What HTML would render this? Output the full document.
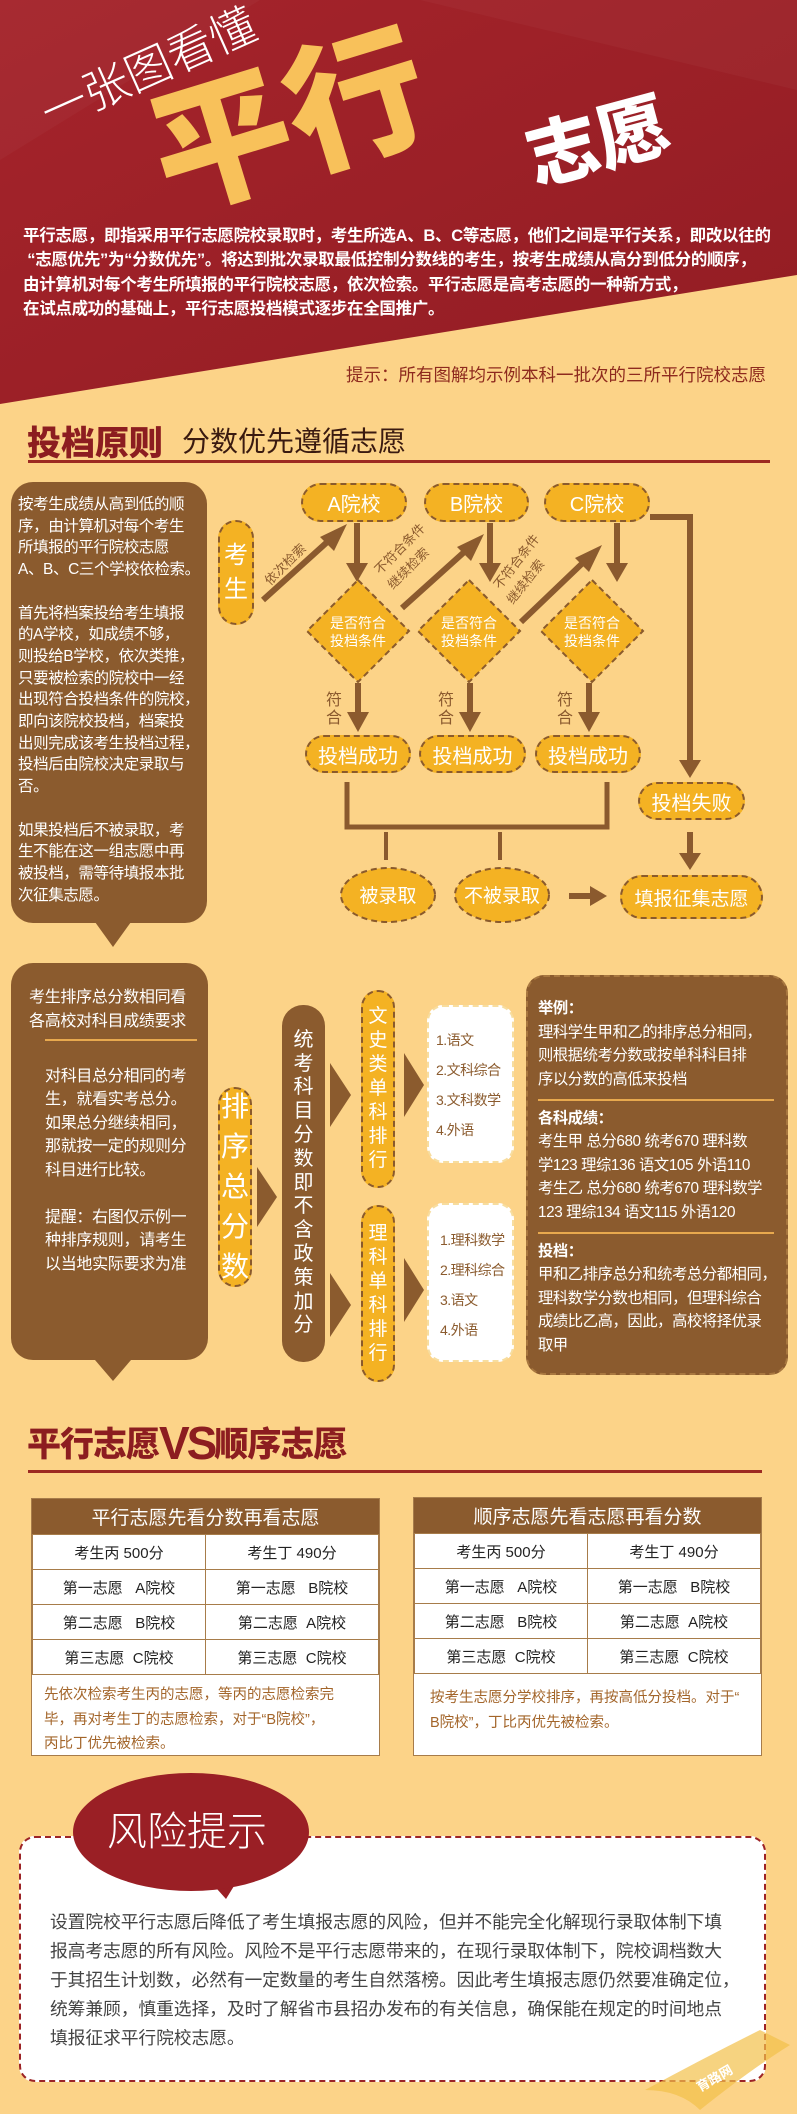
<!DOCTYPE html>
<html><head><meta charset="utf-8">
<style>
*{margin:0;padding:0;box-sizing:border-box}
body{width:797px;height:2114px;position:relative;overflow:hidden;background:#fcd388;font-family:"Liberation Sans","Noto Sans CJK SC",sans-serif}
.a{position:absolute}
.nw{white-space:nowrap}
.pill{position:absolute;background:#f4b223;border:2px dashed #8a5a2c;border-radius:22px;color:#fff;display:flex;align-items:center;justify-content:center;font-size:20px;white-space:nowrap}
.brown{position:absolute;background:#8b5b2e;color:#fff;white-space:nowrap}
.vt{display:flex;flex-direction:column;align-items:center;justify-content:center}
table{border-collapse:collapse;width:100%}
td{border:1.5px solid #a77c4a;text-align:center;font-size:15px;color:#222;height:35px;white-space:nowrap}
.tb{position:absolute;background:#fff;border:1.5px solid #a77c4a}
.th{background:#8b5b2e;color:#fff;font-size:19px;height:35px;display:flex;align-items:center;justify-content:center}
.note{font-size:14.5px;color:#a3652a;line-height:24.5px;padding:8px 10px 0 12px;text-align:left;white-space:nowrap}
</style></head><body>

<svg class="a" style="left:0;top:0" width="797" height="420">
<defs><linearGradient id="rg" x1="0" y1="0" x2="1" y2="1"><stop offset="0" stop-color="#a5242b"/><stop offset="1" stop-color="#921c23"/></linearGradient></defs>
<polygon points="0,0 797,0 797,275 0,404" fill="url(#rg)"/>
<polygon points="0,0 260,0 0,160" fill="#ffffff" opacity="0.03"/>
<polygon points="420,0 797,0 797,90" fill="#ffffff" opacity="0.03"/>
<text x="0" y="0" transform="translate(50,130) rotate(-24)" font-size="46" fill="#fff" font-family="Noto Sans CJK SC,sans-serif" font-weight="300">一张图看懂</text>
<text x="0" y="0" transform="translate(170,210) rotate(-17)" font-size="140" fill="#f8c15a" font-family="Noto Sans CJK SC,sans-serif" font-weight="900">平行</text>
<text x="0" y="0" transform="translate(535,185) rotate(-15)" font-size="72" fill="#fff" font-family="Noto Sans CJK SC,sans-serif" font-weight="900">志愿</text>
</svg>
<div class="a nw" style="left:23px;top:224px;color:#fff;font-size:16.5px;line-height:24.3px;font-weight:bold;letter-spacing:-0.3px">平行志愿，即指采用平行志愿院校录取时，考生所选A、B、C等志愿，他们之间是平行关系，即改以往的<br>&nbsp;“志愿优先”为“分数优先”。将达到批次录取最低控制分数线的考生，按考生成绩从高分到低分的顺序，<br>由计算机对每个考生所填报的平行院校志愿，依次检索。平行志愿是高考志愿的一种新方式，<br>在试点成功的基础上，平行志愿投档模式逐步在全国推广。</div>
<div class="a nw" style="left:346px;top:362px;color:#8e2a1e;font-size:17.5px">提示：所有图解均示例本科一批次的三所平行院校志愿</div>

<div class="a nw" style="left:27px;top:416px;color:#8c1d20;font-size:34px;font-weight:900">投档原则</div>
<div class="a nw" style="left:182px;top:420px;color:#3a1a10;font-size:28px">分数优先遵循志愿</div>
<div class="a" style="left:28px;top:460px;width:742px;height:3px;background:#9c2a22"></div>

<div class="brown" style="left:11px;top:482px;width:196px;height:441px;border-radius:22px;padding:12px 0 0 7px;font-size:15.5px;line-height:21.7px;letter-spacing:-0.4px">按考生成绩从高到低的顺<br>序，由计算机对每个考生<br>所填报的平行院校志愿<br>A、B、C三个学校依检索。<br><br>首先将档案投给考生填报<br>的A学校，如成绩不够，<br>则投给B学校，依次类推，<br>只要被检索的院校中一经<br>出现符合投档条件的院校，<br>即向该院校投档，档案投<br>出则完成该考生投档过程，<br>投档后由院校决定录取与<br>否。<br><br>如果投档后不被录取，考<br>生不能在这一组志愿中再<br>被投档，需等待填报本批<br>次征集志愿。</div>
<svg class="a" style="left:0;top:0" width="797" height="1400">
<polygon points="95,922 131,922 113,947" fill="#8b5b2e"/>
<g stroke="#8b5a2e" stroke-width="6" fill="none">
<line x1="263" y1="600" x2="335" y2="535"/>
<line x1="402" y1="608" x2="472" y2="545"/>
<line x1="521" y1="622" x2="590" y2="556"/>
<line x1="357" y1="523" x2="357" y2="565"/>
<line x1="490" y1="523" x2="490" y2="565"/>
<line x1="617" y1="523" x2="617" y2="565"/>
<line x1="358" y1="683" x2="358" y2="715"/>
<line x1="470" y1="683" x2="470" y2="715"/>
<line x1="589" y1="683" x2="589" y2="715"/>
<polyline points="650,517 690,517 690,762"/>
<line x1="690" y1="832" x2="690" y2="855"/>
<polyline points="347,782 347,827 607,827 607,782" stroke-width="5"/>
<line x1="386" y1="832" x2="386" y2="860" stroke-width="4"/>
<line x1="500" y1="832" x2="500" y2="860" stroke-width="4"/>
<line x1="569" y1="896" x2="592" y2="896"/>
</g>
<g fill="#8b5a2e">
<polygon points="347,524 320,537 334,551"/>
<polygon points="484,534 457,547 471,561"/>
<polygon points="602,545 575,558 589,572"/>
<polygon points="346,563 368,563 357,582"/>
<polygon points="479,563 501,563 490,582"/>
<polygon points="606,563 628,563 617,582"/>
<polygon points="347,712 369,712 358,732"/>
<polygon points="459,712 481,712 470,732"/>
<polygon points="578,712 600,712 589,732"/>
<polygon points="679,760 701,760 690,778"/>
<polygon points="679,853 701,853 690,870"/>
<polygon points="590,886 590,906 607,896"/>
</g>
<g fill="#f4b223" stroke="#8a5a2c" stroke-width="2" stroke-dasharray="6,4">
<polygon points="358,580 409,631 358,682 307,631"/>
<polygon points="469,580 520,631 469,682 418,631"/>
<polygon points="592,580 643,631 592,682 541,631"/>
<ellipse cx="388" cy="895" rx="47" ry="27"/>
<ellipse cx="502" cy="895" rx="47" ry="27"/>
</g>
<g font-family="Noto Sans CJK SC,sans-serif" font-size="14" fill="#fff" text-anchor="middle">
<text x="358" y="628">是否符合</text><text x="358" y="646">投档条件</text>
<text x="469" y="628">是否符合</text><text x="469" y="646">投档条件</text>
<text x="592" y="628">是否符合</text><text x="592" y="646">投档条件</text>
<text x="388" y="902" font-size="19">被录取</text>
<text x="502" y="902" font-size="19">不被录取</text>
</g>
<g font-family="Noto Sans CJK SC,sans-serif" font-size="13" fill="#8b5a2e">
<text transform="translate(270,586) rotate(-45)">依次检索</text>
<text transform="translate(380,575) rotate(-45)">不符合条件</text>
<text transform="translate(393,590) rotate(-45)">继续检索</text>
<text transform="translate(500,590) rotate(-52)">不符合条件</text>
<text transform="translate(513,605) rotate(-52)">继续检索</text>
<text x="326" y="705" font-size="16">符</text><text x="326" y="723" font-size="16">合</text>
<text x="438" y="705" font-size="16">符</text><text x="438" y="723" font-size="16">合</text>
<text x="557" y="705" font-size="16">符</text><text x="557" y="723" font-size="16">合</text>
</g>
<g fill="#8b5b2e">
<polygon points="95,1360 131,1360 113,1381"/>
<polygon points="257,1167 277,1197 257,1227"/>
<polygon points="330,1063 351,1095 330,1127"/>
<polygon points="330,1273 351,1305 330,1337"/>
<polygon points="404,1053 424,1085 404,1117"/>
<polygon points="404,1258 424,1290 404,1322"/>
</g>
</svg>
<div class="pill" style="left:301px;top:483px;width:106px;height:39px">A院校</div>
<div class="pill" style="left:424px;top:483px;width:105px;height:39px">B院校</div>
<div class="pill" style="left:544px;top:483px;width:106px;height:39px">C院校</div>
<div class="pill vt" style="left:218px;top:520px;width:36px;height:105px;font-size:24px;line-height:34px;border-radius:18px">考<br>生</div>
<div class="pill" style="left:305px;top:735px;width:106px;height:38px">投档成功</div>
<div class="pill" style="left:419px;top:735px;width:107px;height:38px">投档成功</div>
<div class="pill" style="left:535px;top:735px;width:106px;height:38px">投档成功</div>
<div class="pill" style="left:638px;top:782px;width:107px;height:38px">投档失败</div>
<div class="pill" style="left:620px;top:875px;width:143px;height:44px;font-size:19px">填报征集志愿</div>

<div class="brown" style="left:11px;top:963px;width:197px;height:397px;border-radius:22px;font-size:16px;line-height:23.5px;padding:23px 0 0 18px;letter-spacing:-0.3px">
<div>考生排序总分数相同看<br>各高校对科目成绩要求</div>
<div style="width:152px;height:1.5px;background:#e8a94e;margin:6px 0 0 16px"></div>
<div style="margin-top:24px;margin-left:16px">对科目总分相同的考<br>生，就看实考总分。<br>如果总分继续相同，<br>那就按一定的规则分<br>科目进行比较。<br><br>提醒：右图仅示例一<br>种排序规则，请考生<br>以当地实际要求为准</div>
</div>
<div class="pill vt" style="left:218px;top:1087px;width:34px;height:200px;font-size:28px;line-height:40px;border-radius:17px">排<br>序<br>总<br>分<br>数</div>
<div class="brown vt" style="left:282px;top:1005px;width:43px;height:357px;border-radius:21px;font-size:20px;line-height:23.8px">统<br>考<br>科<br>目<br>分<br>数<br>即<br>不<br>含<br>政<br>策<br>加<br>分</div>
<div class="pill vt" style="left:361px;top:990px;width:34px;height:198px;font-size:19px;line-height:24px;border-radius:17px">文<br>史<br>类<br>单<br>科<br>排<br>行</div>
<div class="pill vt" style="left:361px;top:1205px;width:34px;height:177px;font-size:19px;line-height:24px;border-radius:17px">理<br>科<br>单<br>科<br>排<br>行</div>
<div class="a nw" style="left:427px;top:1005px;width:87px;height:158px;background:#fff;border:2px dashed #f7dd9f;border-radius:16px;color:#8b5b2e;font-size:14px;line-height:30px;padding:18px 0 0 7px;letter-spacing:-0.5px">1.语文<br>2.文科综合<br>3.文科数学<br>4.外语</div>
<div class="a nw" style="left:427px;top:1203px;width:87px;height:159px;background:#fff;border:2px dashed #f7dd9f;border-radius:16px;color:#8b5b2e;font-size:14px;line-height:30px;padding:20px 0 0 11px;letter-spacing:-0.5px">1.理科数学<br>2.理科综合<br>3.语文<br>4.外语</div>
<div class="brown" style="left:526px;top:975px;width:262px;height:400px;border-radius:18px;border:2px dashed #a8773f;font-size:15.3px;line-height:23.5px;padding:20px 0 0 10px;letter-spacing:-0.4px">
<b>举例：</b><br>理科学生甲和乙的排序总分相同，<br>则根据统考分数或按单科科目排<br>序以分数的高低来投档
<div style="width:236px;height:1.5px;background:#e8a94e;margin:8px 0 6px 0"></div>
<b>各科成绩：</b><br>考生甲 总分680 统考670 理科数<br>学123 理综136 语文105 外语110<br>考生乙 总分680 统考670 理科数学<br>123 理综134 语文115 外语120
<div style="width:236px;height:1.5px;background:#e8a94e;margin:8px 0 6px 0"></div>
<b>投档：</b><br>甲和乙排序总分和统考总分都相同，<br>理科数学分数也相同，但理科综合<br>成绩比乙高，因此，高校将择优录<br>取甲</div>

<div class="a nw" style="left:27px;top:1413px;color:#8c1d20;font-size:34px;font-weight:900;letter-spacing:-1px">平行志愿<span style="font-size:46px;font-family:'Liberation Sans';font-weight:bold;letter-spacing:-3px;position:relative;top:3px">VS</span>顺序志愿</div>
<div class="a" style="left:28px;top:1470px;width:734px;height:3px;background:#9c2a22"></div>

<div class="tb" style="left:31px;top:1498px;width:349px;height:258px">
<div class="th">平行志愿先看分数再看志愿</div>
<table><tr><td>考生丙 500分</td><td>考生丁 490分</td></tr>
<tr><td>第一志愿&nbsp;&nbsp; A院校</td><td>第一志愿&nbsp;&nbsp; B院校</td></tr>
<tr><td>第二志愿&nbsp;&nbsp; B院校</td><td>第二志愿&nbsp; A院校</td></tr>
<tr><td>第三志愿&nbsp; C院校</td><td>第三志愿&nbsp; C院校</td></tr></table>
<div class="note">先依次检索考生丙的志愿，等丙的志愿检索完<br>毕，再对考生丁的志愿检索，对于“B院校”，<br>丙比丁优先被检索。</div>
</div>
<div class="tb" style="left:413px;top:1497px;width:349px;height:259px">
<div class="th">顺序志愿先看志愿再看分数</div>
<table><tr><td>考生丙 500分</td><td>考生丁 490分</td></tr>
<tr><td>第一志愿&nbsp;&nbsp; A院校</td><td>第一志愿&nbsp;&nbsp; B院校</td></tr>
<tr><td>第二志愿&nbsp;&nbsp; B院校</td><td>第二志愿&nbsp; A院校</td></tr>
<tr><td>第三志愿&nbsp; C院校</td><td>第三志愿&nbsp; C院校</td></tr></table>
<div class="note" style="padding-top:12px;padding-left:16px">按考生志愿分学校排序，再按高低分投档。对于“<br>B院校”，丁比丙优先被检索。</div>
</div>

<div class="a" style="left:19px;top:1836px;width:747px;height:246px;background:#fff;border:2px dashed #9c2326;border-radius:16px"></div>
<svg class="a" style="left:0;top:1760px" width="797" height="150">
<polygon points="200,110 226,139 250,100" fill="#9a1f25"/>
<ellipse cx="191" cy="72" rx="118" ry="59" fill="#9a1f25"/>
<text x="187" y="85" font-size="40" fill="#fff" text-anchor="middle" font-family="Noto Sans CJK SC,sans-serif" font-weight="300">风险提示</text>
</svg>
<div class="a nw" style="left:50px;top:1908px;color:#444;font-size:17.8px;line-height:29px;letter-spacing:-0.1px">设置院校平行志愿后降低了考生填报志愿的风险，但并不能完全化解现行录取体制下填<br>报高考志愿的所有风险。风险不是平行志愿带来的，在现行录取体制下，院校调档数大<br>于其招生计划数，必然有一定数量的考生自然落榜。因此考生填报志愿仍然要准确定位，<br>统筹兼顾，慎重选择，及时了解省市县招办发布的有关信息，确保能在规定的时间地点<br>填报征求平行院校志愿。</div>
<svg class="a" style="left:640px;top:2030px" width="157" height="84">
<path d="M5,60 Q60,30 120,0 L150,15 Q110,40 60,80 Q40,60 5,60Z" fill="#f2c04a" opacity="0.7"/>
<text transform="translate(60,62) rotate(-30)" font-size="13" fill="#fff" font-weight="bold" font-family="Noto Sans CJK SC,sans-serif">育路网</text>
</svg>
</body></html>
